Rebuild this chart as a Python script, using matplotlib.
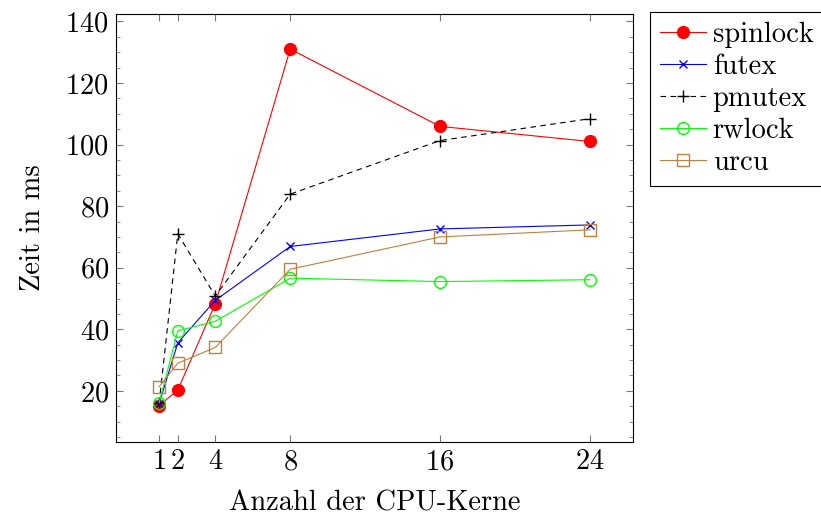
import matplotlib
matplotlib.use("Agg")
import matplotlib.pyplot as plt
from matplotlib.ticker import MultipleLocator

# Daten
kerne = [1, 2, 4, 8, 16, 24]
spinlock = [15.2, 20.3, 48.3, 131.0, 105.9, 101.0]
futex = [15.8, 35.6, 49.4, 66.9, 72.6, 73.9]
pmutex = [16.0, 71.0, 50.8, 83.9, 101.3, 108.4]
rwlock = [16.1, 39.5, 42.6, 56.6, 55.5, 56.1]
urcu = [21.3, 29.0, 34.1, 59.5, 70.0, 72.3]

plt.rcParams["font.family"] = ["cmr10", "DejaVu Serif"]
plt.rcParams["axes.formatter.use_mathtext"] = True
plt.rcParams["font.size"] = 20.5

fig = plt.figure(figsize=(8.21, 5.2), dpi=100)
ax = fig.add_axes([116 / 821, 1 - 442 / 520, (633 - 116) / 821, (442 - 14) / 520])

lw = 0.8
ax.plot(kerne, spinlock, color="#ff0000", lw=lw, marker="o", ms=8.5, label="spinlock")
ax.plot(kerne, futex, color="#0000ff", lw=lw, marker="x", ms=5.5, mew=1.0, label="futex")
ax.plot(kerne, pmutex, color="black", lw=lw, ls=(0, (5, 4)), marker="+", ms=8, mew=1.0,
        label="pmutex")
ax.plot(kerne, rwlock, color="#00ff00", lw=lw, marker="o", ms=8.5, mfc="none", mew=1.0,
        label="rwlock")
ax.plot(kerne, urcu, color="#bf8040", lw=lw, marker="s", ms=8, mfc="none", mew=1.0,
        label="urcu")

ax.set_xlim(-1.3, 26.3)
ax.set_ylim(3.4, 142.4)
ax.set_xticks(kerne)
ax.yaxis.set_major_locator(MultipleLocator(20))
ax.yaxis.set_minor_locator(MultipleLocator(5))
ax.set_yticks(range(20, 141, 20))
ax.tick_params(which="both", direction="in", top=True, right=True, color="#777777")
ax.tick_params(which="major", length=5, pad=5)
ax.tick_params(which="minor", length=3)
ax.tick_params(axis="x", which="minor", top=False, bottom=False)
for s in ax.spines.values():
    s.set_linewidth(0.8)

ax.set_xlabel("Anzahl der CPU-Kerne", labelpad=11)
ax.set_ylabel("Zeit in ms", labelpad=14)

leg = ax.legend(loc="upper left", bbox_to_anchor=(650 / 821, 1 - 12 / 520),
                bbox_transform=fig.transFigure, borderaxespad=0, fancybox=False,
                edgecolor="black", framealpha=1, handlelength=1.6, labelspacing=0.2,
                handletextpad=0.25, borderpad=0.35, handleheight=0.7)
leg.get_frame().set_linewidth(0.8)

fig.savefig("out.png", dpi=100)
